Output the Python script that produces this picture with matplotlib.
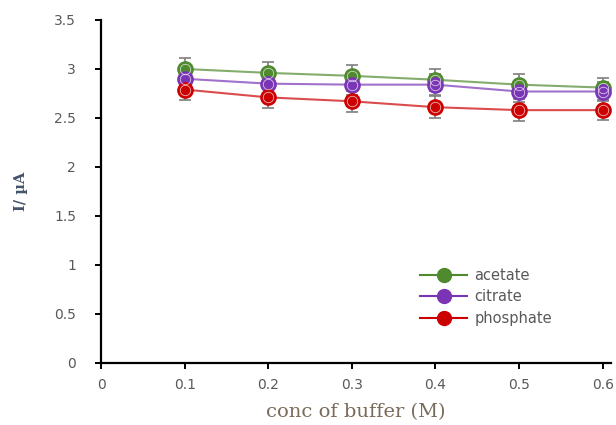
import matplotlib
matplotlib.use("Agg")
import matplotlib.pyplot as plt
from matplotlib.lines import Line2D

# data
conc = [0.1, 0.2, 0.3, 0.4, 0.5, 0.6]
acetate = [3.00, 2.96, 2.93, 2.89, 2.84, 2.81]
citrate = [2.90, 2.85, 2.84, 2.84, 2.77, 2.77]
phosphate = [2.79, 2.71, 2.67, 2.61, 2.58, 2.58]
err = [0.11, 0.11, 0.11, 0.11, 0.11, 0.10]

series = [
    ("acetate", acetate, "#4f8a2f"),
    ("citrate", citrate, "#7a35b5"),
    ("phosphate", phosphate, "#cc0000"),
]

fig = plt.figure(figsize=(6.16, 4.25), dpi=100)
ax = fig.add_axes([0.164, 0.146, 0.828, 0.807])

handles = []
for name, vals, col in series:
    ax.errorbar(conc, vals, yerr=err, fmt="none", ecolor="#7f7f7f",
                elinewidth=1.2, capsize=4, capthick=1.2, zorder=2)
    # connecting line (semi-transparent), then opaque markers on top
    ax.plot(conc, vals, color=col, lw=1.5, alpha=0.7, zorder=3)
    ax.plot(conc, vals, ls="none", marker="o", ms=11, mfc=col, mec=col,
            mew=1.0, zorder=4)
    ax.plot(conc, vals, ls="none", marker="o", ms=7.5, mfc="none",
            mec="white", mew=0.6, alpha=0.7, zorder=5)
    handles.append(Line2D([], [], color=col, lw=1.5, marker="o", ms=10,
                          mfc=col, mec=col))

ax.set_xlim(0, 0.61)
ax.set_ylim(0, 3.5)
ax.set_xticks([0, 0.1, 0.2, 0.3, 0.4, 0.5, 0.6])
ax.set_xticklabels(["0", "0.1", "0.2", "0.3", "0.4", "0.5", "0.6"])
ax.set_yticks([0, 0.5, 1, 1.5, 2, 2.5, 3, 3.5])
ax.set_yticklabels(["0", "0.5", "1", "1.5", "2", "2.5", "3", "3.5"])

for s in ["top", "right"]:
    ax.spines[s].set_visible(False)
for s in ["left", "bottom"]:
    ax.spines[s].set_linewidth(1.6)
    ax.spines[s].set_color("black")

ax.tick_params(axis="both", direction="out", length=4, width=1.4,
               labelsize=10, labelcolor="#595959")
ax.tick_params(axis="y", pad=14)
ax.tick_params(axis="x", pad=7)

ax.set_ylabel("I/ µA", family="serif", fontweight="bold", fontsize=10.5,
              color="#44546a", labelpad=19)
ax.set_xlabel("conc of buffer (M)", family="serif", fontsize=14,
              color="#7a6a5a", labelpad=8)

ax.legend(handles, [s[0] for s in series], loc="lower left",
          bbox_to_anchor=(0.6, 0.07), frameon=False, fontsize=10.5,
          labelcolor="#595959", handlelength=3.2,
          labelspacing=0.45, handletextpad=0.5)

fig.savefig("out.png", dpi=100)
